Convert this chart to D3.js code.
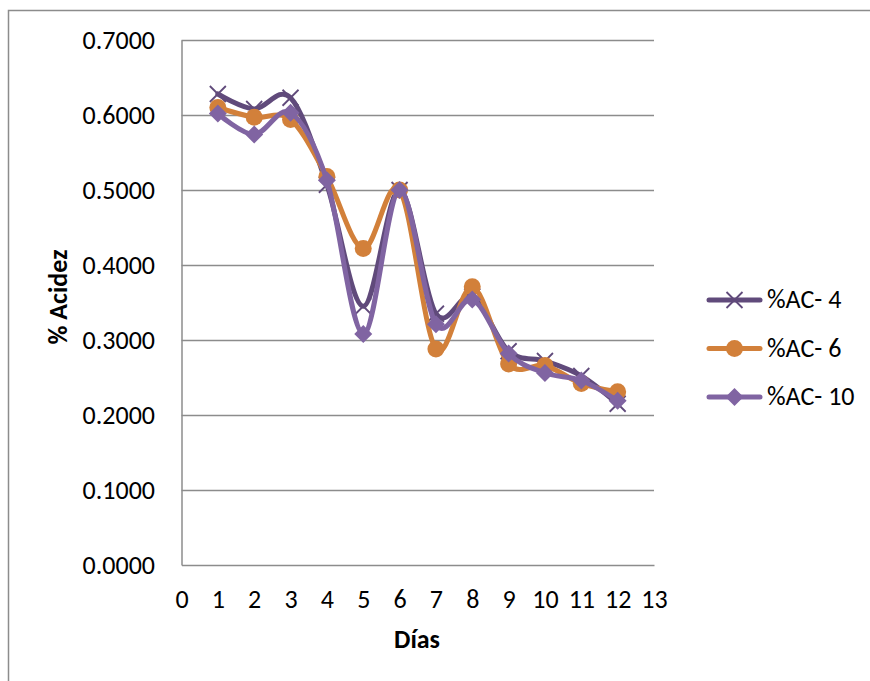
<!DOCTYPE html>
<html>
<head>
<meta charset="utf-8">
<script src="https://cdn.jsdelivr.net/npm/d3@7"></script>
<style>
  html, body { margin: 0; padding: 0; background: #fff; }
  svg { display: block; font-family: Carlito, Calibri, "Open Sans", sans-serif; }
</style>
</head>
<body>
<svg id="chart" width="870" height="681"></svg>
<script>
// Acidity (%) measured per day for three samples
const days = [1, 2, 3, 4, 5, 6, 7, 8, 9, 10, 11, 12];
const ac4  = [0.628, 0.608, 0.623, 0.507, 0.345, 0.500, 0.335, 0.358, 0.285, 0.272, 0.252, 0.215];
const ac6  = [0.610, 0.597, 0.594, 0.518, 0.422, 0.500, 0.288, 0.371, 0.268, 0.266, 0.242, 0.231];
const ac10 = [0.602, 0.574, 0.603, 0.513, 0.308, 0.500, 0.321, 0.354, 0.282, 0.256, 0.246, 0.219];
const seriesNames = ["%AC- 4", "%AC- 6", "%AC- 10"];
const xTicks = d3.range(0, 14);
const yTicks = [0, 0.1, 0.2, 0.3, 0.4, 0.5, 0.6, 0.7];

const series = [
  { name: seriesNames[0], values: ac4,  color: "#604A7B", marker: "x" },
  { name: seriesNames[1], values: ac6,  color: "#D2803A", marker: "circle" },
  { name: seriesNames[2], values: ac10, color: "#8064A2", marker: "diamond" }
];

const FONT = "Carlito, Calibri, 'Open Sans', sans-serif";
const FS = 26;

const svg = d3.select("#chart");
const plotLeft = 181.5, plotRight = 654, plotTop = 40, plotBottom = 565;

const x = d3.scaleLinear().domain([0, 13]).range([plotLeft, plotRight]);
const y = d3.scaleLinear().domain([0, 0.7]).range([plotBottom, plotTop]);

// outer chart frame
svg.append("rect")
  .attr("x", 8.5).attr("y", 10.5)
  .attr("width", 900).attr("height", 700)
  .attr("fill", "none").attr("stroke", "#8c8c8c").attr("stroke-width", 1.5);

// horizontal gridlines
svg.append("g")
  .selectAll("line")
  .data(yTicks.filter(d => d > 0))
  .join("line")
  .attr("x1", plotLeft).attr("x2", plotRight)
  .attr("y1", d => Math.round(y(d)) + 0.5).attr("y2", d => Math.round(y(d)) + 0.5)
  .attr("stroke", "#8c8c8c").attr("stroke-width", 1.5);

// axes
const yAxis = d3.axisLeft(y).tickValues(yTicks).tickFormat(d3.format(".4f")).tickSize(0).tickPadding(26.5);
const gy = svg.append("g").attr("transform", `translate(${plotLeft},0)`).call(yAxis);
gy.select(".domain").attr("stroke", "#8c8c8c").attr("stroke-width", 1.5);
gy.selectAll("text").attr("font-size", FS).attr("fill", "#000").attr("font-family", FONT).attr("dy", 8);

const xAxis = d3.axisBottom(x).tickValues(xTicks).tickFormat(d3.format("d")).tickSize(0);
const gx = svg.append("g").attr("transform", `translate(0,${plotBottom})`).call(xAxis);
gx.select(".domain").attr("stroke", "#8c8c8c").attr("stroke-width", 1.5);
gx.selectAll("text").attr("font-size", FS).attr("fill", "#000").attr("font-family", FONT)
  .attr("y", 43).attr("dy", 0);

// axis titles
svg.append("text")
  .attr("x", 417).attr("y", 648)
  .attr("text-anchor", "middle")
  .attr("font-size", FS).attr("font-weight", "bold")
  .text("Días");
svg.append("text")
  .attr("transform", "translate(67,297) rotate(-90)")
  .attr("text-anchor", "middle")
  .attr("font-size", FS).attr("font-weight", "bold")
  .text("% Acidez");

const line = d3.line()
  .x((d, i) => x(days[i]))
  .y(d => y(d))
  .curve(d3.curveCatmullRom.alpha(0));

function drawMarker(g, type, cx, cy, color) {
  if (type === "circle") {
    g.append("circle").attr("cx", cx).attr("cy", cy).attr("r", 8.5).attr("fill", color);
  } else if (type === "diamond") {
    g.append("path")
      .attr("d", `M${cx},${cy - 9}L${cx + 9},${cy}L${cx},${cy + 9}L${cx - 9},${cy}Z`)
      .attr("fill", color);
  } else {
    g.append("path")
      .attr("d", `M${cx - 8},${cy - 8}L${cx + 8},${cy + 8}M${cx - 8},${cy + 8}L${cx + 8},${cy - 8}`)
      .attr("stroke", color).attr("stroke-width", 1.8).attr("fill", "none");
  }
}

const plot = svg.append("g");
series.forEach(s => {
  const g = plot.append("g");
  g.append("path")
    .attr("d", line(s.values))
    .attr("fill", "none")
    .attr("stroke", s.color)
    .attr("stroke-width", 5)
    .attr("stroke-linecap", "round")
    .attr("stroke-linejoin", "round");
  s.values.forEach((v, i) => drawMarker(g, s.marker, x(days[i]), y(v), s.color));
});

// legend
const legend = svg.append("g");
series.forEach((s, i) => {
  const ly = 300 + i * 48.5;
  legend.append("line")
    .attr("x1", 709).attr("x2", 760).attr("y1", ly).attr("y2", ly)
    .attr("stroke", s.color).attr("stroke-width", 5).attr("stroke-linecap", "round");
  drawMarker(legend, s.marker, 734.5, ly, s.color);
  legend.append("text")
    .attr("x", 767).attr("y", ly + 8)
    .attr("font-size", FS)
    .text(s.name);
});
</script>
</body>
</html>
